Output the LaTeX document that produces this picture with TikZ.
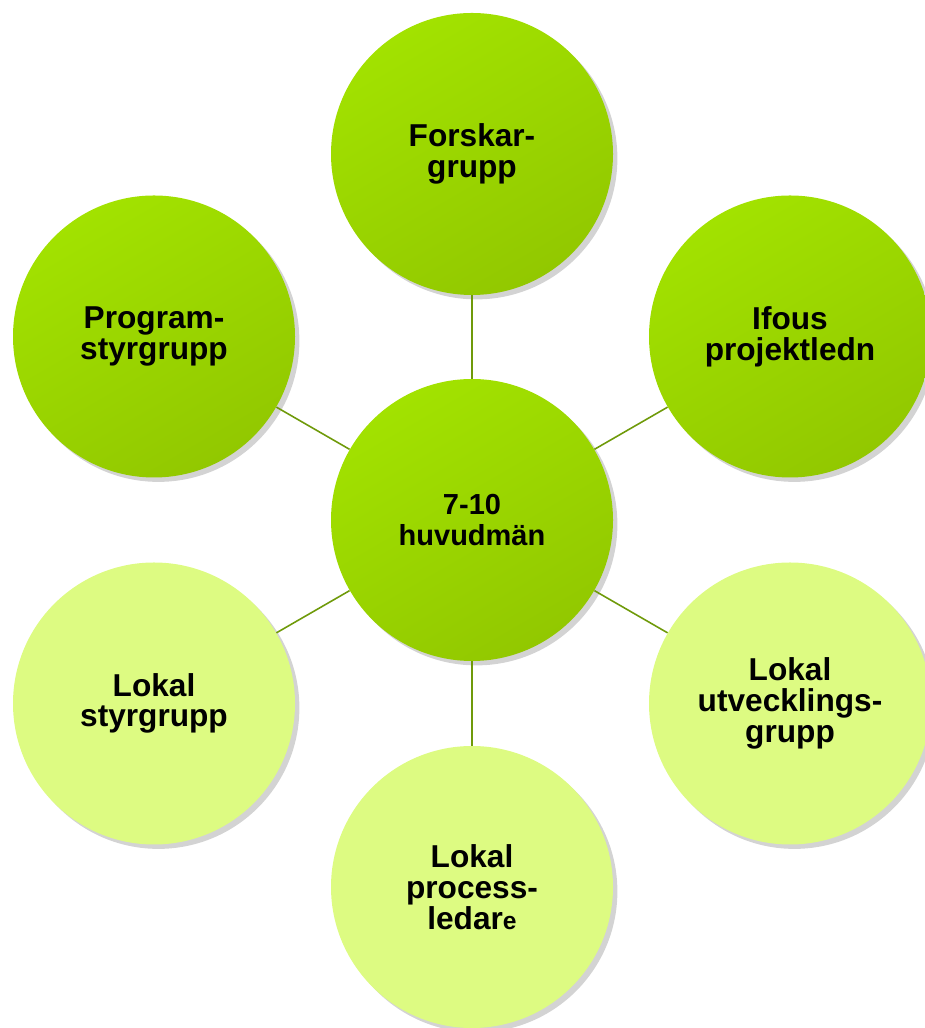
\documentclass[tikz,border=0pt]{standalone}
\usepackage{fontspec}
\setmainfont{Liberation Sans}
\usetikzlibrary{shadows}
\definecolor{bubdarkA}{HTML}{A2E200}
\definecolor{bubdarkB}{HTML}{92C800}
\definecolor{bublight}{HTML}{DDFB82}
\definecolor{spoke}{HTML}{6F9A0A}
\tikzset{
  bubble/.style={circle, minimum size=5.64cm, inner sep=0pt, align=center,
    font=\bfseries\fontsize{18}{17.5}\selectfont,
    drop shadow={opacity=0.35, shadow xshift=2.5pt, shadow yshift=-2.5pt}},
  darkbubble/.style={bubble, left color=bubdarkA, right color=bubdarkB, shading angle=30},
  lightbubble/.style={bubble, fill=bublight},
  spokeline/.style={draw=spoke, line width=0.9pt}
}
\begin{document}
\begin{tikzpicture}
			%%%%% START %%%%%
			\useasboundingbox (0, 0) rectangle (18.48, 20.56);
			
			\node[darkbubble, font=\bfseries\fontsize{16.5}{17.5}\selectfont] (hub) at (9.44, 10.16) {7-10\\huvudmän};
			
			\node[darkbubble] (forskar) at (9.44, 17.48) {Forskar-\\grupp};
			\node[darkbubble] (ifous) at (15.80, 13.83) {Ifous\\projektledn};
			\node[lightbubble] (utveckling) at (15.80, 6.49) {Lokal\\utvecklings-\\grupp};
			\node[lightbubble] (process) at (9.44, 2.82) {Lokal\\process-\\ledar{\fontsize{14}{17.5}\selectfont e}};
			\node[lightbubble] (lokalstyr) at (3.08, 6.49) {Lokal\\styrgrupp};
			\node[darkbubble] (programstyr) at (3.08, 13.83) {Program-\\styrgrupp};
			
			\draw[spokeline] (hub) -- (forskar);
			\draw[spokeline] (hub) -- (ifous);
			\draw[spokeline] (hub) -- (utveckling);
			\draw[spokeline] (hub) -- (process);
			\draw[spokeline] (hub) -- (lokalstyr);
			\draw[spokeline] (hub) -- (programstyr);
			
			%%%%% END %%%%%
		\end{tikzpicture}
\end{document}
